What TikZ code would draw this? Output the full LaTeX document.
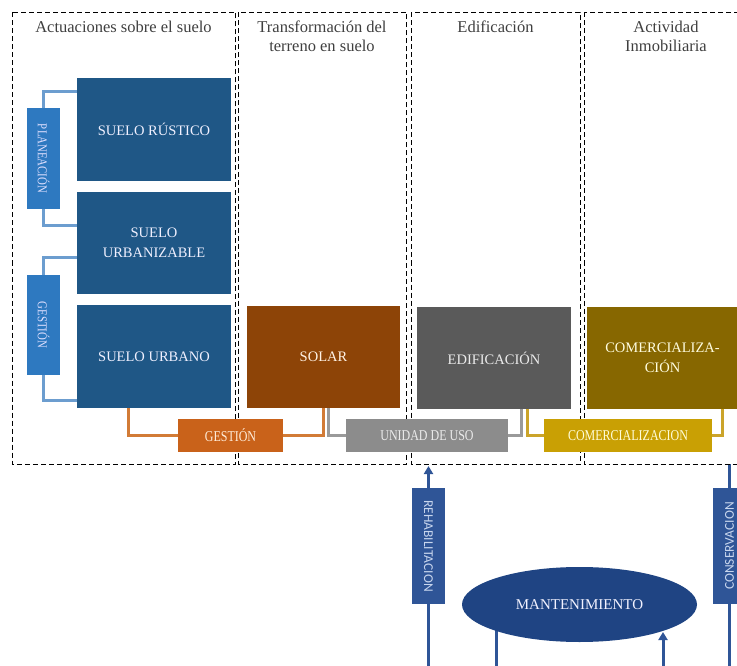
\documentclass[tikz,border=0pt]{standalone}
\usepackage{graphicx}
\usepackage{fontspec}
\setmainfont{Liberation Serif}
\newfontfamily\condfont[FakeStretch=0.8]{Liberation Serif}
\newfontfamily\carlfont{Carlito}
\usetikzlibrary{shapes.geometric,arrows.meta,backgrounds,calc}
\definecolor{titlegray}{HTML}{3F3F3F}
\definecolor{dkblue}{HTML}{1F5786}
\definecolor{mdblue}{HTML}{2E79C0}
\definecolor{ltblue}{HTML}{6C9DCF}
\definecolor{solarc}{HTML}{8D4407}
\definecolor{orangec}{HTML}{C9621A}
\definecolor{orline}{HTML}{D27B36}
\definecolor{edifc}{HTML}{5A5A5A}
\definecolor{grayc}{HTML}{8C8C8C}
\definecolor{grline}{HTML}{9A9A9A}
\definecolor{comc}{HTML}{876700}
\definecolor{goldc}{HTML}{C9A004}
\definecolor{goline}{HTML}{CBA42A}
\definecolor{navy}{HTML}{2F5597}
\definecolor{ellc}{HTML}{1F4483}
\tikzset{
  panel/.style={draw=black, dash pattern=on 5pt off 3pt, line width=0.9pt},
  ttl/.style={anchor=base, font=\fontsize{16.5}{19}\selectfont, text=titlegray, inner sep=0pt},
  bigbox/.style={anchor=north west, inner sep=0pt, outer sep=0pt, minimum width=154pt, minimum height=103pt, font=\fontsize{14.5}{20}\selectfont, align=center},
  smallbox/.style={anchor=north west, inner sep=0pt, outer sep=0pt, minimum height=33pt, font=\condfont\fontsize{15}{18}\selectfont},
  vbox/.style={anchor=north west, inner sep=0pt, outer sep=0pt, minimum width=33pt, font=\condfont\fontsize{13.5}{16}\selectfont},
  nbox/.style={anchor=north west, inner sep=0pt, outer sep=0pt, minimum width=33pt, minimum height=116pt, fill=navy, text=navytext, font=\carlfont\fontsize{13.5}{16}\selectfont},
  bline/.style={draw=ltblue, line width=3pt},
  cline/.style={line width=3pt},
  nline/.style={draw=navy, line width=3pt},
  ntip/.style={-{Triangle[width=9pt,length=8pt]}}
}
\definecolor{navytext}{HTML}{C8D6EE}
\begin{document}
\begin{tikzpicture}[x=1pt,y=-1pt]
\useasboundingbox (0,0) rectangle (737,666);
\clip (0,0) rectangle (737,666);
% panels
\draw[panel] (12.5,12.5) rectangle (235.5,464);
\draw[panel] (238.5,12.5) rectangle (406.5,464);
\draw[panel] (411,12.5) rectangle (580,464);
\draw[panel] (584,12.5) rectangle (770,464);
% titles
\node[ttl] (t1) at (123.5,33) {Actuaciones sobre el suelo};
\node[ttl] (t2a) at (322,33) {Transformación del};
\node[ttl] (t2b) at (322,52) {terreno en suelo};
\node[ttl] (t3) at (495.5,33) {Edificación};
\node[ttl] (t4a) at (666,33) {Actividad};
\node[ttl] (t4b) at (666,52) {Inmobiliaria};
% big boxes
\node[bigbox, fill=dkblue, text=white!94!blue] (rustico) at (77,78) {SUELO RÚSTICO};
\node[bigbox, fill=dkblue, text=white!94!blue, minimum height=102pt] (urbanizable) at (77,192) {SUELO\\URBANIZABLE};
\node[bigbox, fill=dkblue, text=white!94!blue] (urbano) at (77,305) {SUELO URBANO};
\node[bigbox, fill=solarc, text=white!90!orange, minimum width=153pt, minimum height=102pt] (solar) at (247,306) {SOLAR};
\node[bigbox, fill=edifc, text=white!92!black, minimum height=102pt] (edif) at (417,307) {EDIFICACIÓN};
\node[bigbox, fill=comc, text=white!88!yellow, minimum width=151pt, minimum height=102pt] (comerc) at (587,307) {COMERCIALIZA-\\CIÓN};
% vertical blue boxes
\node[vbox, fill=mdblue, text=white!88!blue, minimum height=101pt] (plan) at (27,108) {\rotatebox{-90}{PLANEACIÓN}};
\node[vbox, fill=mdblue, text=white!88!blue, minimum height=100pt] (gestv) at (27,275) {\rotatebox{-90}{GESTIÓN}};
% small horizontal boxes
\node[smallbox, fill=orangec, text=white!85!orange, minimum width=105pt] (gest) at (178,419) {GESTIÓN};
\node[smallbox, fill=grayc, text=white!92!black, minimum width=162pt] (unidad) at (346,419) {UNIDAD DE USO};
\node[smallbox, fill=goldc, text=white!85!yellow, minimum width=168pt] (comer) at (544,419) {COMERCIALIZACION};
% blue connectors
\draw[bline] (plan.north) |- ([yshift=-14pt]rustico.north west);
\draw[bline] (plan.south) |- ([yshift=-34pt]urbanizable.north west);
\draw[bline] (gestv.north) |- ([yshift=-65pt]urbanizable.north west);
\draw[bline] (gestv.south) |- ([yshift=-95pt]urbano.north west);
% process connectors
\draw[cline, draw=orline] ([xshift=51pt]urbano.south west) |- (gest.west);
\draw[cline, draw=orline] (gest.east) -| ([xshift=76pt]solar.south west);
\draw[cline, draw=grline] ([xshift=81pt]solar.south west) |- (unidad.west);
\draw[cline, draw=grline] (unidad.east) -| ([xshift=104pt]edif.south west);
\draw[cline, draw=goline] ([xshift=110pt]edif.south west) |- (comer.west);
\draw[cline, draw=goline] (comer.east) -| ([xshift=135pt]comerc.south west);
% bottom section
\node[nbox] (rehab) at (412,488) {\rotatebox{-90}{REHABILITACION}};
\node[nbox] (conserv) at (713,488) {\rotatebox{90}{CONSERVACION}};
\node[ellipse, fill=ellc, minimum width=235pt, minimum height=75pt, inner sep=0pt, text=white!95!blue, font=\fontsize{15}{18}\selectfont] (mant) at (579.5,604.5) {MANTENIMIENTO};
\coordinate (rb) at (428.5,667);
\coordinate (rt) at (428.5,466);
\coordinate (ct) at (729.5,464);
\coordinate (cb) at (729.5,667);
\coordinate (m1) at (496,667);
\coordinate (m2) at (663,667);
\coordinate (m2t) at (663,632);
\begin{scope}[on background layer]
\draw[nline] (rb) -- (rehab.south);
\draw[nline] (m1) -- (m1 |- mant.center);
\draw[nline] (ct) -- (cb);
\end{scope}
\draw[nline, ntip] (rehab.north) -- (rt);
\draw[nline, ntip] (m2) -- (m2t);
\end{tikzpicture}
\end{document}
